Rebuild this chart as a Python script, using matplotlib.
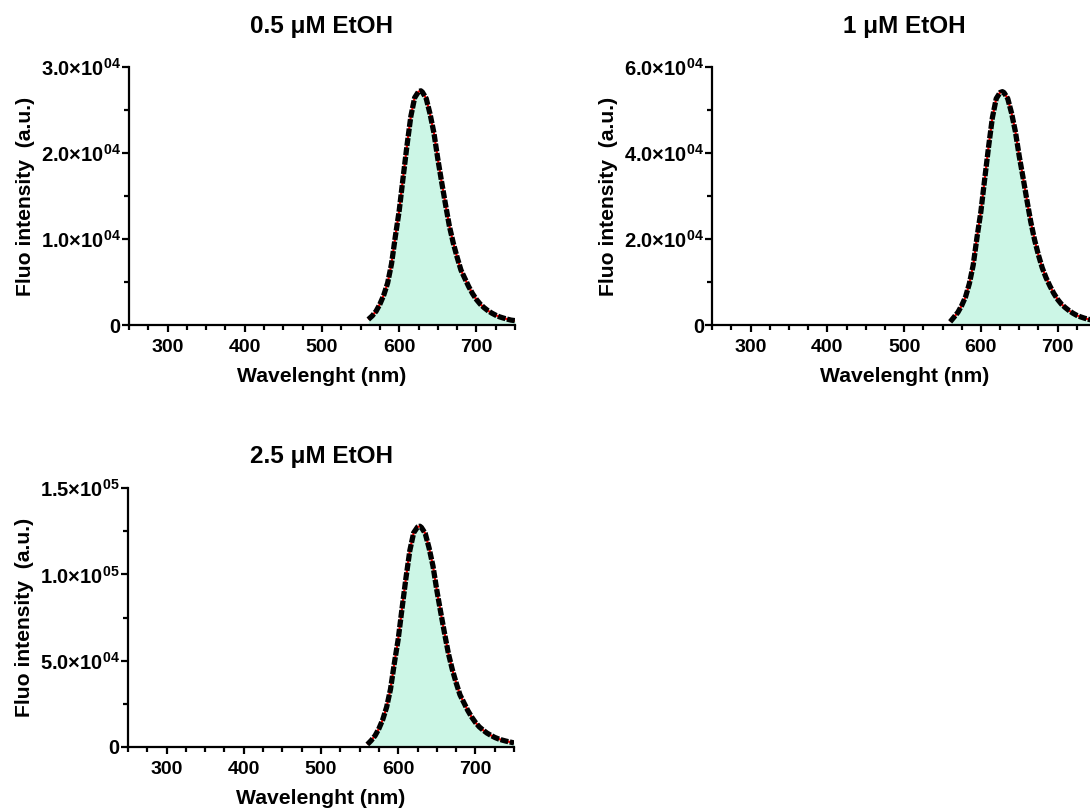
import matplotlib
matplotlib.use('Agg')
import matplotlib.pyplot as plt
from matplotlib.ticker import MultipleLocator

plt.rcParams['font.family'] = ['Liberation Sans', 'DejaVu Sans']
plt.rcParams['font.weight'] = 'bold'
plt.rcParams['mathtext.fontset'] = 'custom'
plt.rcParams['mathtext.rm'] = 'Liberation Sans:bold'
plt.rcParams['mathtext.bf'] = 'Liberation Sans:bold'
plt.rcParams['mathtext.it'] = 'Liberation Sans:bold'
plt.rcParams['mathtext.sf'] = 'Liberation Sans:bold'

# ---------------- data ----------------
wavelength = [560, 565, 570, 575, 580, 585, 590, 595, 600, 605, 610, 615, 620, 625, 628,
              630, 635, 640, 645, 650, 655, 660, 665, 670, 675, 680, 685, 690, 695, 700,
              705, 710, 715, 720, 725, 730, 735, 740, 745, 750]

intensity_05 = [680, 1090, 1630, 2450, 3500, 4900, 7100, 10300, 13300, 17100, 20800, 24200, 26400, 27100, 27200,
                27050, 26300, 24500, 22300, 19300, 16600, 14000, 11500, 9550, 7900, 6400, 5440, 4490, 3670, 2990,
                2450, 2040, 1690, 1410, 1170, 980, 840, 710, 600, 540]

intensity_1 = [810, 1900, 3000, 4600, 6600, 9700, 14000, 20500, 26400, 34000, 41400, 48200, 52600, 54000, 54200,
               54000, 52600, 49200, 44900, 39200, 34200, 29000, 24000, 19800, 16300, 13300, 11000, 9100, 7400, 6000,
               4900, 4100, 3400, 2800, 2300, 1950, 1650, 1400, 1200, 1000]

intensity_25 = [1300, 3600, 6400, 10500, 15800, 23000, 33400, 48500, 62500, 80500, 97900, 113800, 124200, 127500, 128000,
                127300, 123800, 115300, 104900, 90800, 78100, 65800, 54100, 44900, 37100, 30100, 25600, 21100, 17300, 14100,
                11500, 9600, 7900, 6600, 5400, 4500, 3800, 3200, 2700, 2200]

titles = ['0.5 \u03bcM EtOH', '1 \u03bcM EtOH', '2.5 \u03bcM EtOH']
x_ticks = [300, 400, 500, 600, 700]
y_ticks_05 = [0, 10000, 20000, 30000]
y_labels_05 = ['0', r'$1.0{\times}10^{04}$', r'$2.0{\times}10^{04}$', r'$3.0{\times}10^{04}$']
y_ticks_1 = [0, 20000, 40000, 60000]
y_labels_1 = ['0', r'$2.0{\times}10^{04}$', r'$4.0{\times}10^{04}$', r'$6.0{\times}10^{04}$']
y_ticks_25 = [0, 50000, 100000, 150000]
y_labels_25 = ['0', r'$5.0{\times}10^{04}$', r'$1.0{\times}10^{05}$', r'$1.5{\times}10^{05}$']

fill_color = '#CCF6E6'

fig = plt.figure(figsize=(10.90, 8.09), dpi=100)

panels = [
    ([0.1183, 0.5979, 0.3542, 0.3197], intensity_05, titles[0], y_ticks_05, y_labels_05, 24),
    ([0.6535, 0.5979, 0.3520, 0.3197], intensity_1, titles[1], y_ticks_1, y_labels_1, 24),
    ([0.1174, 0.0770, 0.3542, 0.3194], intensity_25, titles[2], y_ticks_25, y_labels_25, 18),
]

for rect, vals, title, yt, yl, tpad in panels:
    ax = fig.add_axes(rect)
    ax.fill_between(wavelength, vals, 0, color=fill_color, lw=0, zorder=1)
    ax.plot(wavelength, vals, color='red', lw=1.6, zorder=2, solid_capstyle='butt')
    ax.plot(wavelength, vals, color='black', lw=3.8, zorder=3, dashes=(1.5, 0.3),
            dash_capstyle='butt', solid_joinstyle='round')
    ax.set_xlim(250, 750)
    ax.set_ylim(0, yt[-1])
    ax.set_xticks(x_ticks)
    ax.xaxis.set_minor_locator(MultipleLocator(25))
    ax.set_yticks(yt)
    ax.set_yticklabels(yl)
    ax.yaxis.set_minor_locator(MultipleLocator(yt[1] / 2))
    for s in ['top', 'right']:
        ax.spines[s].set_visible(False)
    for s in ['left', 'bottom']:
        ax.spines[s].set_linewidth(1.6)
    ax.tick_params(which='major', direction='out', length=5, width=1.6)
    ax.tick_params(axis='x', which='major', labelsize=14, pad=5)
    ax.tick_params(axis='y', which='major', pad=1, labelsize=14.5)
    ax.tick_params(which='minor', direction='out', length=3.5, width=1.6)
    for lab in ax.get_xticklabels() + ax.get_yticklabels():
        lab.set_fontweight('bold')
    ax.set_xlabel('Wavelenght (nm)', fontsize=15.2, fontweight='bold', labelpad=8)
    ax.set_ylabel('Fluo intensity  (a.u.)', fontsize=15.2, fontweight='bold', labelpad=4)
    ax.set_title(title, fontsize=17.5, fontweight='bold', pad=tpad)

fig.savefig('out.png', dpi=100)
